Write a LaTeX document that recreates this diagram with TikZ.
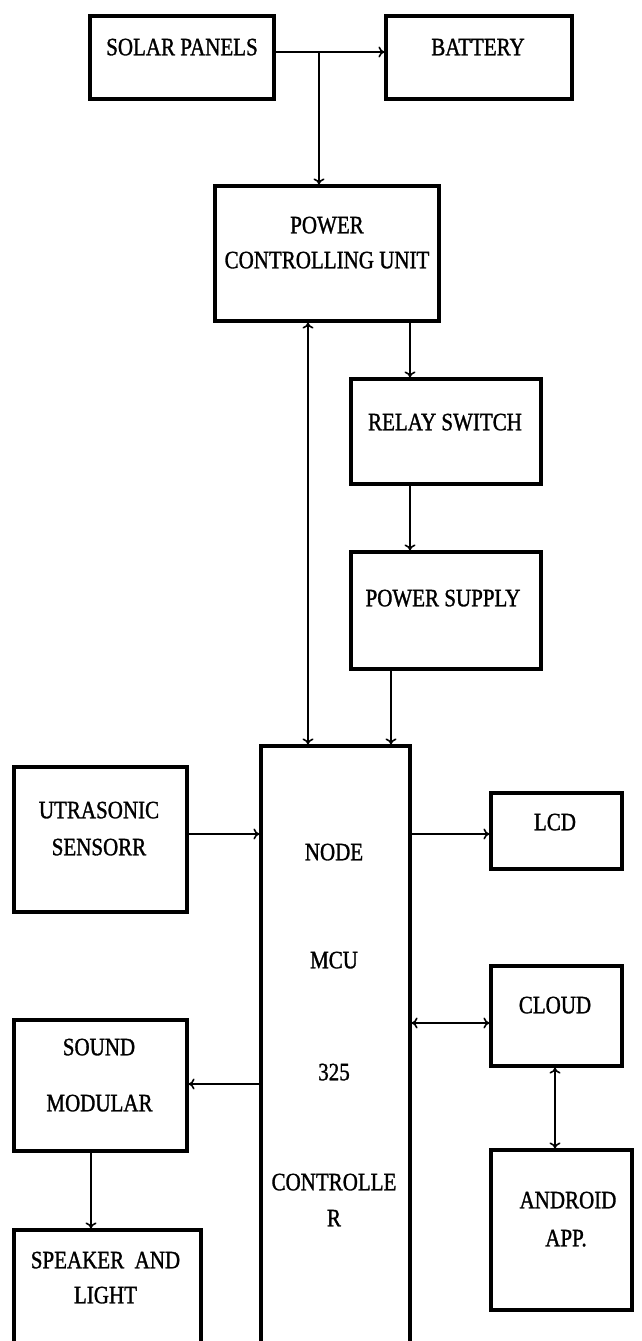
\documentclass[tikz,border=0pt]{standalone}
\usepackage{fontspec}
\setmainfont{Liberation Serif}[FakeStretch=0.84,FakeBold=1.2]
\usetikzlibrary{arrows.meta}
\begin{document}
\begin{tikzpicture}[x=1pt,y=-1pt,
  blk/.style={draw=black,line width=3.2pt,rectangle,inner sep=0pt,minimum width=#1},
  lbl/.style={font=\fontsize{25}{29}\selectfont,inner sep=0pt,text height=16.5pt,text depth=0pt,anchor=center},
  conn/.style={line width=2pt,-{To[length=6pt,width=11pt,line width=1.6pt]}},
  conn2/.style={line width=2pt,{To[length=6pt,width=11pt,line width=1.6pt]}-{To[length=6pt,width=11pt,line width=1.6pt]}}]
\clip (0,0) rectangle (642,1341);
\fill[white] (0,0) rectangle (642,1341);
% boxes
\node[blk=184pt,minimum height=83pt] (solar) at (182,57.5) {};
\node[blk=186pt,minimum height=83pt] (battery) at (479,57.5) {};
\node[blk=224pt,minimum height=135pt] (pcu) at (327,253.5) {};
\node[blk=190pt,minimum height=105pt] (relay) at (446,431.5) {};
\node[blk=190pt,minimum height=117pt] (psupply) at (446,610.5) {};
\node[blk=149pt,minimum height=614pt] (mcu) at (335.5,1053) {};
\node[blk=173pt,minimum height=145pt] (ultra) at (100.5,839.5) {};
\node[blk=131pt,minimum height=76pt] (lcd) at (556.5,831) {};
\node[blk=131pt,minimum height=100pt] (cloud) at (556.5,1016) {};
\node[blk=173pt,minimum height=131pt] (sound) at (100.5,1085.5) {};
\node[blk=141pt,minimum height=160pt] (android) at (561.5,1230) {};
\node[blk=187pt,minimum height=130pt] (speaker) at (107.5,1295) {};
% labels
\node[lbl] (tsolar) at (182,47) {SOLAR PANELS};
\node[lbl] (tbattery) at (478,47) {BATTERY};
\node[lbl] (tpcu1) at (327,225) {POWER};
\node[lbl] (tpcu2) at (327,260) {CONTROLLING UNIT};
\node[lbl] (trelay) at (445,422) {RELAY SWITCH};
\node[lbl] (tps) at (443,598) {POWER SUPPLY};
\node[lbl] (tult1) at (99,810) {UTRASONIC};
\node[lbl] (tult2) at (99,847) {SENSORR};
\node[lbl] (tlcd) at (555,822) {LCD};
\node[lbl] (tm1) at (334,852) {NODE};
\node[lbl] (tm2) at (334,960) {MCU};
\node[lbl] (tm3) at (334,1072) {325};
\node[lbl] (tm4) at (334,1182) {CONTROLLE};
\node[lbl] (tm5) at (334,1218) {R};
\node[lbl] (tcloud) at (555,1005) {CLOUD};
\node[lbl] (tsnd1) at (99,1047) {SOUND};
\node[lbl] (tsnd2) at (99.5,1103) {MODULAR};
\node[lbl] (tand1) at (568,1200) {ANDROID};
\node[lbl] (tand2) at (566,1238) {APP.};
\node[lbl] (tspk1) at (105.5,1260) {SPEAKER~~AND};
\node[lbl] (tspk2) at (105.5,1295) {LIGHT};
% connector guides
\coordinate (j) at (319,52);
\coordinate (xbi) at (308,0);
\coordinate (xrel) at (410,0);
\coordinate (xps) at (391,0);
\coordinate (yus) at (0,834);
\coordinate (ycl) at (0,1023);
\coordinate (xca) at (555,0);
\coordinate (ysn) at (0,1084);
\coordinate (xsp) at (91,0);
% connectors
\draw[conn] (solar.east |- j) -- (battery.west |- j);
\draw[conn] (j) -- (j |- pcu.north);
\draw[conn2] (pcu.south -| xbi) -- (mcu.north -| xbi);
\draw[conn] (pcu.south -| xrel) -- (relay.north -| xrel);
\draw[conn] (relay.south -| xrel) -- (psupply.north -| xrel);
\draw[conn] (psupply.south -| xps) -- (mcu.north -| xps);
\draw[conn] (ultra.east |- yus) -- (mcu.west |- yus);
\draw[conn] (mcu.east |- yus) -- (lcd.west |- yus);
\draw[conn2] (mcu.east |- ycl) -- (cloud.west |- ycl);
\draw[conn2] (cloud.south -| xca) -- (android.north -| xca);
\draw[conn] (mcu.west |- ysn) -- (sound.east |- ysn);
\draw[conn] (sound.south -| xsp) -- (speaker.north -| xsp);
\end{tikzpicture}
\end{document}
